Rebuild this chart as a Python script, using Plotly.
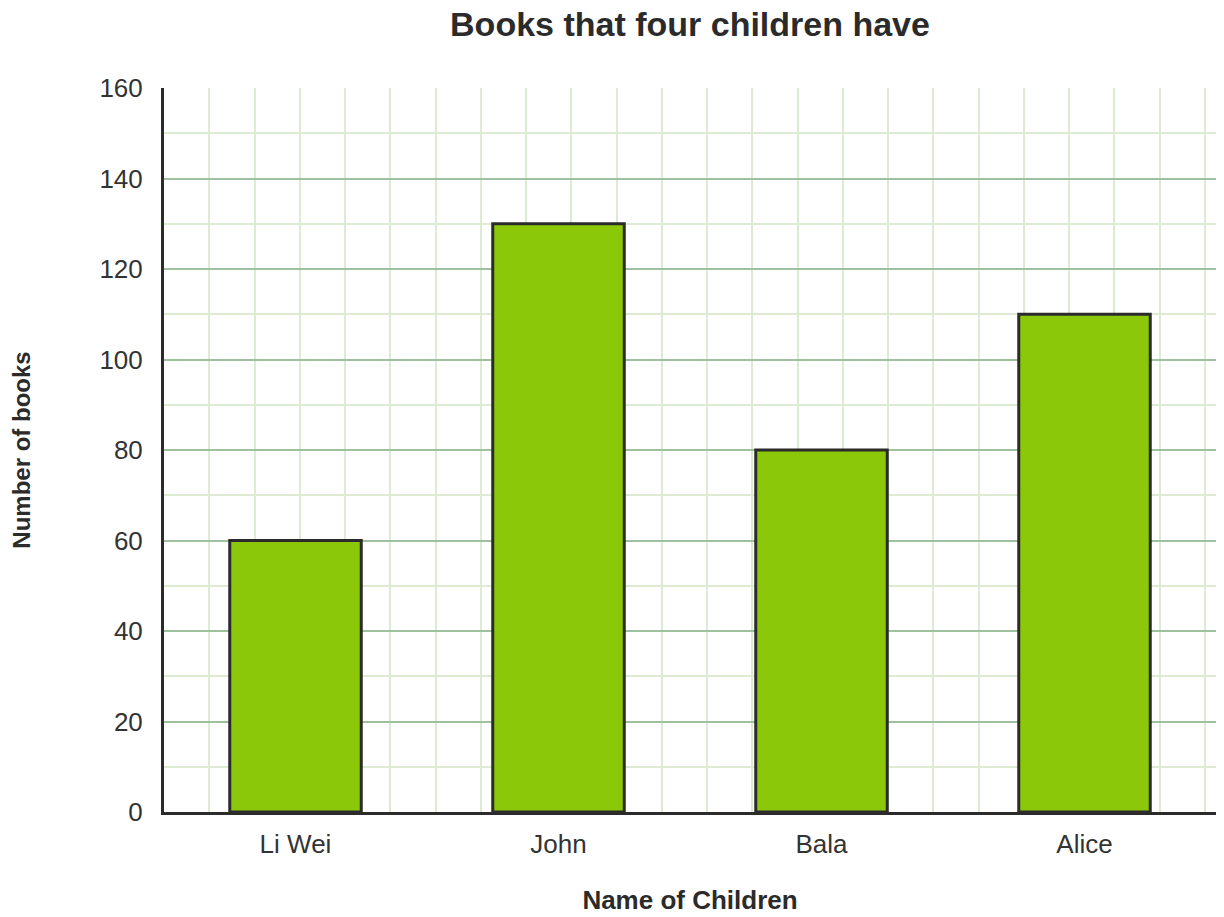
import plotly.graph_objects as go

names = ["Li Wei", "John", "Bala", "Alice"]
books = [60, 130, 80, 110]
y_ticks = [0, 20, 40, 60, 80, 100, 120, 140, 160]

title_text = "Books that four children have"
x_title = "Name of Children"
y_title = "Number of books"

FONT = "Liberation Sans, Arial, sans-serif"
DARK = "#2b2b2b"
MAJOR = "#9dc09d"
MINOR = "#dcebd2"

# page body has an 8px margin; figure sized so plot area lands on the reference
W, H = 1216, 909
L, R, T, B = 156, 8, 80, 105

xpos = list(range(len(names)))

fig = go.Figure(
    go.Bar(
        x=xpos,
        y=books,
        width=0.5,
        marker=dict(color="#8bc80a", line=dict(color=DARK, width=3)),
        hoverinfo="skip",
    )
)

fig.update_layout(
    width=W,
    height=H,
    margin=dict(l=L, r=R, t=T, b=B, autoexpand=False),
    paper_bgcolor="white",
    plot_bgcolor="white",
    showlegend=False,
    font=dict(family=FONT, color="#333333"),
    title=dict(
        text="<b>" + title_text + "</b>",
        x=(L + (W - R)) / 2 / W,
        xanchor="center",
        y=1 - 16 / H,
        yanchor="middle",
        font=dict(size=34, color=DARK, family=FONT),
    ),
)

fig.update_xaxes(
    automargin=False,
    range=[-0.5, len(names) - 0.5],
    tickmode="array",
    tickvals=xpos,
    ticktext=names,
    tickfont=dict(size=26, color="#333333"),
    ticks="",
    ticklabelstandoff=7,
    showgrid=False,
    zeroline=False,
    showline=True,
    linecolor=DARK,
    linewidth=3,
    minor=dict(
        tickmode="linear",
        tick0=-0.5,
        dtick=45.25 / 263,
        showgrid=True,
        gridcolor=MINOR,
        gridwidth=2,
        ticks="",
    ),
    title=dict(text="<b>" + x_title + "</b>", font=dict(size=26, color=DARK), standoff=33),
    fixedrange=True,
)

fig.update_yaxes(
    automargin=False,
    range=[0, 160],
    tickmode="array",
    tickvals=y_ticks,
    tickfont=dict(size=26, color="#333333"),
    ticks="",
    ticklabelstandoff=13,
    showgrid=True,
    gridcolor=MAJOR,
    gridwidth=2,
    zeroline=False,
    showline=True,
    linecolor=DARK,
    linewidth=3,
    minor=dict(
        tickmode="linear",
        tick0=0,
        dtick=10,
        showgrid=True,
        gridcolor=MINOR,
        gridwidth=2,
        ticks="",
    ),
    title=dict(text="<b>" + y_title + "</b>", font=dict(size=24, color=DARK), standoff=67),
    fixedrange=True,
)

fig.write_html("out.html", config={"displayModeBar": False})
